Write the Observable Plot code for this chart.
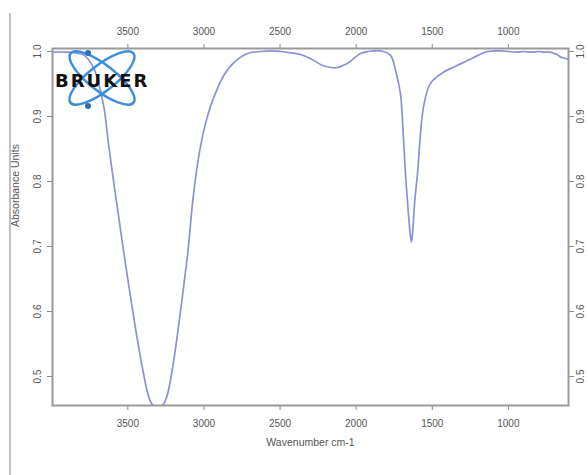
<!DOCTYPE html>
<html><head><meta charset="utf-8">
<script src="https://cdn.jsdelivr.net/npm/d3@7"></script>
<script src="https://cdn.jsdelivr.net/npm/@observablehq/plot@0.6"></script>
<style>body{margin:0;background:#fff} #chart{width:588px;height:475px}</style>
</head><body><div id="chart"></div>
<script>
const wavenumber = [3995,3900,3800,3760,3720,3690,3657,3625,3585,3546,3500,3454,3408,3369,3343,3320,3290,3264,3238,3205,3172,3139,3106,3073,3041,3008,2975,2936,2870,2804,2713,2627,2560,2496,2430,2360,2299,2214,2135,2056,1971,1886,1820,1774,1735,1709,1690,1676,1660,1643,1637,1630,1615,1597,1558,1512,1427,1350,1269,1200,1138,1050,1000,950,900,850,800,760,724,700,678,660,639,606];
const absorbance = [0.999,0.999,0.996,0.988,0.972,0.95,0.914,0.854,0.786,0.722,0.649,0.580,0.518,0.474,0.458,0.4535,0.4535,0.458,0.474,0.515,0.568,0.628,0.691,0.771,0.829,0.871,0.902,0.929,0.963,0.983,0.997,1.000,1.001,1.000,0.998,0.995,0.989,0.978,0.975,0.982,0.997,1.001,1.000,0.994,0.965,0.935,0.87,0.812,0.76,0.715,0.707,0.72,0.77,0.812,0.914,0.951,0.968,0.977,0.986,0.994,1.000,1.001,1.000,0.999,1.000,0.999,1.000,0.999,0.999,0.997,0.995,0.992,0.990,0.988];
const xTicks = [3500,3000,2500,2000,1500,1000];
const yTicks = [0.5,0.6,0.7,0.8,0.9,1.0];
const xTitle = "Wavenumber cm-1";
const yTitle = "Absorbance Units";
const logoText = "BRUKER";

const data = wavenumber.map((w, i) => ({w, a: absorbance[i]}));
const font = "'Liberation Sans', Arial, sans-serif";
const axisCommon = {stroke: "#888", fill: "#555", tickSize: 5, fontSize: 10};

const plot = Plot.plot({
  width: 588, height: 475,
  marginLeft: 52, marginRight: 20, marginTop: 48, marginBottom: 70,
  style: {fontFamily: font, fontSize: "10px", color: "#555", background: "#fff"},
  x: {domain: [3995, 605]},
  y: {domain: [0.4554, 1.0046]},
  marks: [
    Plot.line(data, {x: "w", y: "a", stroke: "#8a90dc", strokeWidth: 1.7, curve: "catmull-rom", clip: true}),
    Plot.axisX({...axisCommon, anchor: "bottom", ticks: xTicks, tickPadding: 9, tickFormat: d => String(d), label: null}),
    Plot.axisX({...axisCommon, anchor: "top", ticks: xTicks, tickPadding: 9, tickFormat: d => String(d), label: null}),
    Plot.axisY({...axisCommon, anchor: "left", ticks: yTicks, tickRotate: -90, tickPadding: 7, tickFormat: ".1f", label: null}),
    Plot.axisY({...axisCommon, anchor: "right", ticks: yTicks, tickRotate: -90, tickPadding: 3, lineAnchor: "top", tickFormat: ".1f", label: null}),
    Plot.text([xTitle], {text: d => d, frameAnchor: "bottom", dy: 40, fill: "#555", fontSize: 10.5}),
    Plot.text([yTitle], {text: d => d, frameAnchor: "left", dx: -37, rotate: -90, fill: "#555", fontSize: 10.5}),
    Plot.frame({stroke: "#999", strokeWidth: 2})
  ]
});

const svg = d3.select(plot);
svg.append("line").attr("x1", 10).attr("x2", 10).attr("y1", 13).attr("y2", 475)
  .attr("stroke", "#aaa").attr("stroke-width", 1.5);
const logo = svg.append("g");
[-38, 38].forEach(r => {
  logo.append("ellipse").attr("cx", 0).attr("cy", 0).attr("rx", 40).attr("ry", 13)
    .attr("transform", `translate(102,78) rotate(${r})`)
    .attr("fill", "none").attr("stroke", "#3b8ed8").attr("stroke-width", 2.5);
});
logo.append("circle").attr("cx", 88).attr("cy", 53).attr("r", 3).attr("fill", "#2a6fb5");
logo.append("circle").attr("cx", 88).attr("cy", 106).attr("r", 3).attr("fill", "#2a6fb5");
logo.append("text").attr("x", 55).attr("y", 87).attr("text-anchor", "start").text(logoText)
  .attr("font-family", "'DejaVu Sans', sans-serif").attr("font-weight", "bold")
  .attr("font-size", 18).attr("letter-spacing", 2).attr("fill", "#111");

document.getElementById("chart").appendChild(plot);
</script>
</body></html>
